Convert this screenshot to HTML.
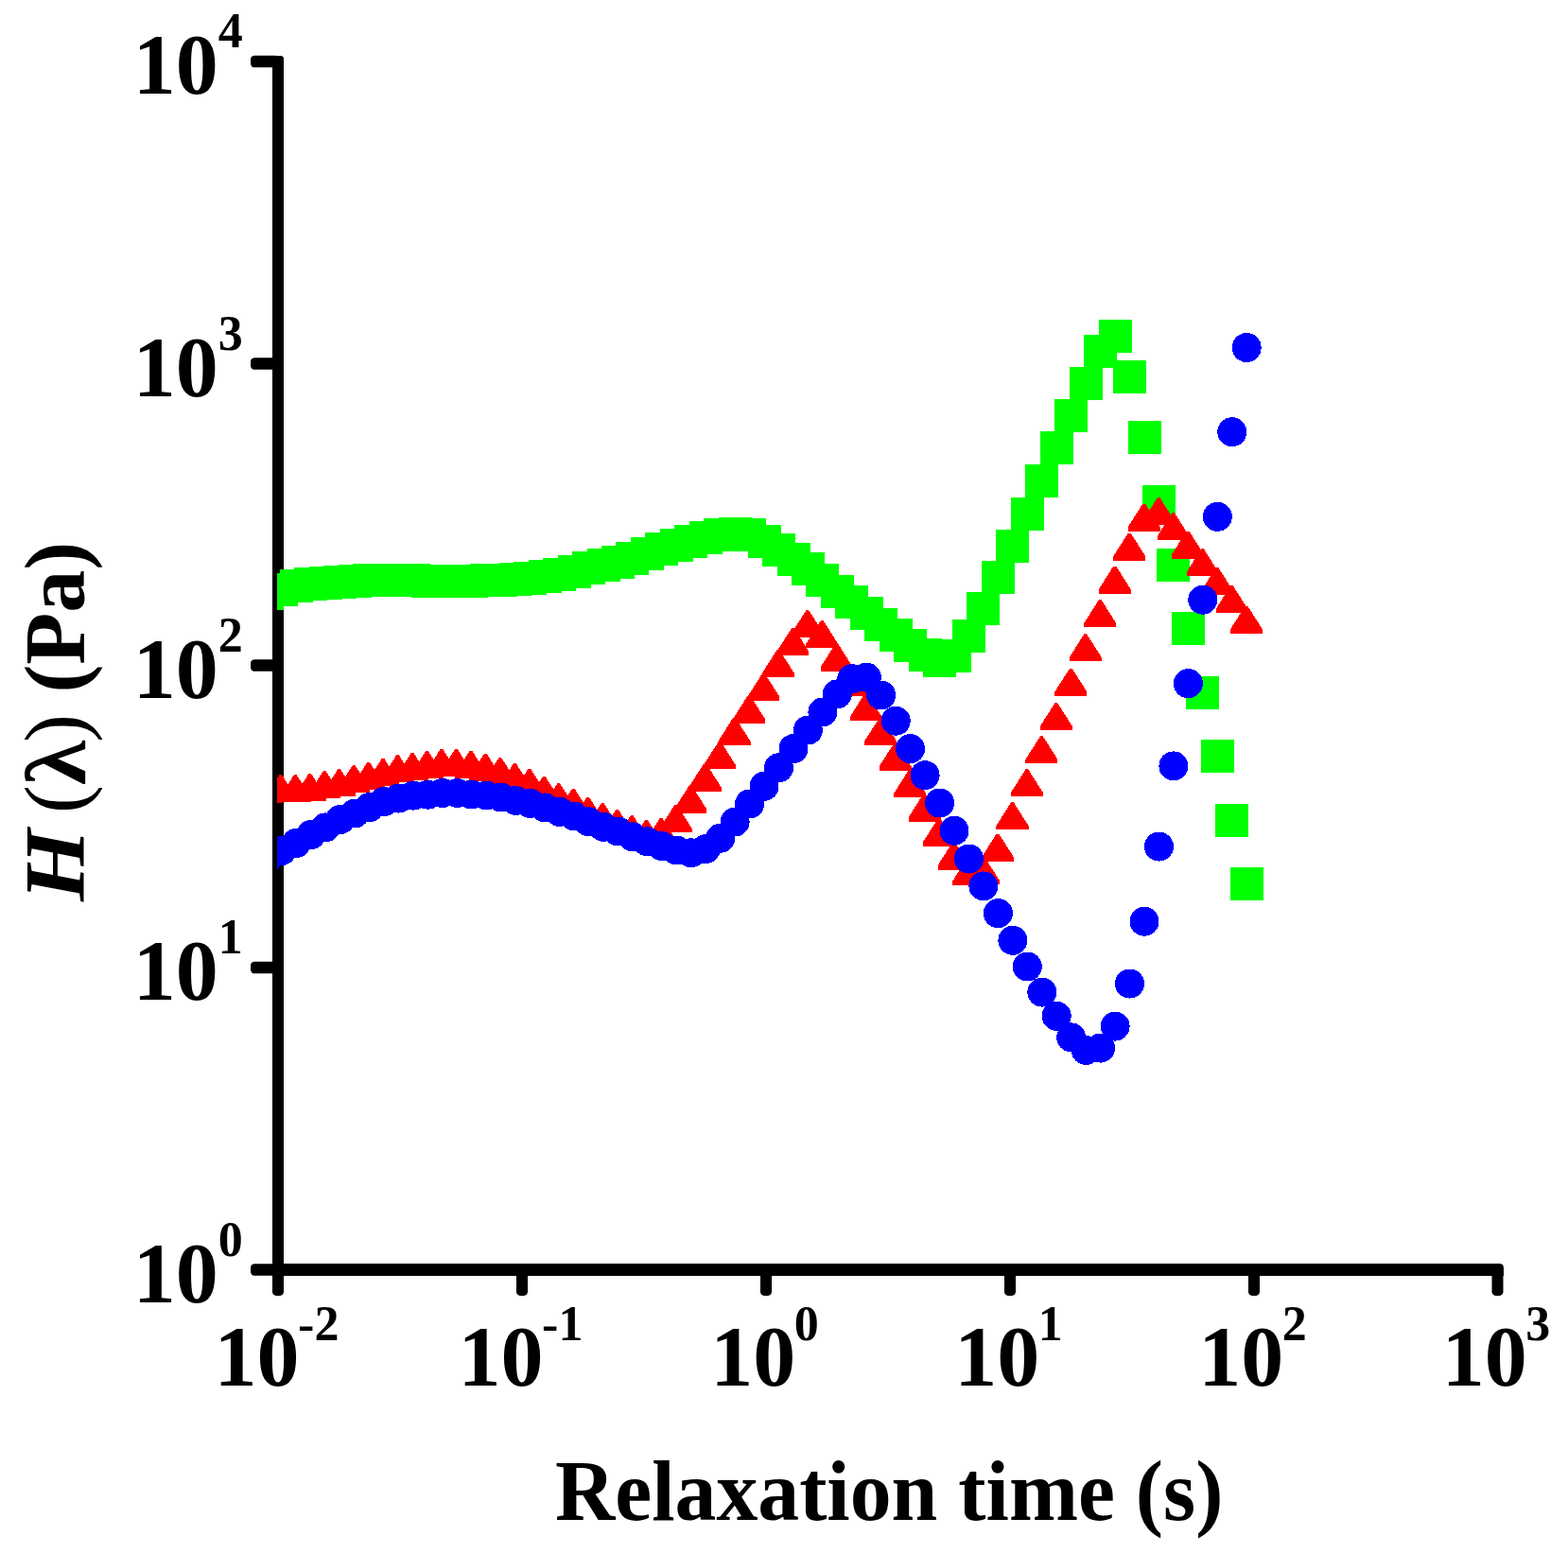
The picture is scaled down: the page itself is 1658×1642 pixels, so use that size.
<!DOCTYPE html>
<html><head><meta charset="utf-8"><title>Relaxation spectrum H(λ)</title><style>
html,body{margin:0;padding:0;background:#fff;overflow:hidden;}
svg{display:block;}
text{font-family:'Liberation Serif', 'Times New Roman', serif;fill:#000;}
</style></head><body>
<svg width="1658" height="1642" viewBox="0 0 1658 1642">
<rect width="1658" height="1642" fill="#fff"/>
<defs><clipPath id="pc"><rect x="293" y="0" width="1365" height="1336"/></clipPath></defs>
<g id="axes" fill="#000">
<path d="M288 59H298L300 61V1349H288Z"/>
<rect x="265" y="58.7" width="30" height="12.6" rx="4.5" ry="4"/>
<rect x="265" y="378.2" width="30" height="12.6" rx="4.5" ry="4"/>
<rect x="265" y="697.2" width="30" height="12.6" rx="4.5" ry="4"/>
<rect x="265" y="1016.7" width="30" height="12.6" rx="4.5" ry="4"/>
<rect x="265" y="1336.2" width="30" height="12.6" rx="4.5" ry="4"/>
<path d="M288 1336H1585.5A4.5 4.5 0 0 1 1590 1340.5V1349H288Z"/>
<rect x="288.0" y="1342" width="12" height="28" rx="4.5" ry="4"/>
<rect x="546.0" y="1342" width="12" height="28" rx="4.5" ry="4"/>
<rect x="804.0" y="1342" width="12" height="28" rx="4.5" ry="4"/>
<rect x="1062.0" y="1342" width="12" height="28" rx="4.5" ry="4"/>
<rect x="1320.0" y="1342" width="12" height="28" rx="4.5" ry="4"/>
<rect x="1577.5" y="1342" width="12" height="28" rx="4.5" ry="4"/>
</g>
<g clip-path="url(#pc)" shape-rendering="crispEdges">
<g fill="#00ff00">
<rect x="264.9" y="609.8" width="35" height="35"/>
<rect x="280.4" y="606.0" width="35" height="35"/>
<rect x="295.8" y="601.8" width="35" height="35"/>
<rect x="311.3" y="600.0" width="35" height="35"/>
<rect x="326.7" y="598.9" width="35" height="35"/>
<rect x="342.2" y="597.8" width="35" height="35"/>
<rect x="357.7" y="596.9" width="35" height="35"/>
<rect x="373.1" y="596.0" width="35" height="35"/>
<rect x="388.6" y="596.0" width="35" height="35"/>
<rect x="404.0" y="595.9" width="35" height="35"/>
<rect x="419.5" y="596.0" width="35" height="35"/>
<rect x="435.0" y="596.5" width="35" height="35"/>
<rect x="450.4" y="596.7" width="35" height="35"/>
<rect x="465.9" y="596.7" width="35" height="35"/>
<rect x="481.3" y="596.5" width="35" height="35"/>
<rect x="496.8" y="596.2" width="35" height="35"/>
<rect x="512.3" y="595.8" width="35" height="35"/>
<rect x="527.7" y="594.7" width="35" height="35"/>
<rect x="543.2" y="594.0" width="35" height="35"/>
<rect x="558.6" y="592.0" width="35" height="35"/>
<rect x="574.1" y="590.0" width="35" height="35"/>
<rect x="589.6" y="587.2" width="35" height="35"/>
<rect x="605.0" y="583.1" width="35" height="35"/>
<rect x="620.5" y="580.3" width="35" height="35"/>
<rect x="635.9" y="577.2" width="35" height="35"/>
<rect x="651.4" y="573.2" width="35" height="35"/>
<rect x="666.9" y="568.2" width="35" height="35"/>
<rect x="682.3" y="563.2" width="35" height="35"/>
<rect x="697.8" y="559.2" width="35" height="35"/>
<rect x="713.2" y="555.2" width="35" height="35"/>
<rect x="728.7" y="551.2" width="35" height="35"/>
<rect x="744.2" y="548.3" width="35" height="35"/>
<rect x="759.6" y="547.0" width="35" height="35"/>
<rect x="775.1" y="548.0" width="35" height="35"/>
<rect x="790.5" y="554.5" width="35" height="35"/>
<rect x="806.0" y="563.6" width="35" height="35"/>
<rect x="821.5" y="573.9" width="35" height="35"/>
<rect x="836.9" y="583.9" width="35" height="35"/>
<rect x="852.4" y="595.9" width="35" height="35"/>
<rect x="867.8" y="608.0" width="35" height="35"/>
<rect x="883.3" y="618.9" width="35" height="35"/>
<rect x="898.8" y="630.9" width="35" height="35"/>
<rect x="914.2" y="642.9" width="35" height="35"/>
<rect x="929.7" y="654.3" width="35" height="35"/>
<rect x="945.1" y="664.9" width="35" height="35"/>
<rect x="960.6" y="674.9" width="35" height="35"/>
<rect x="976.1" y="681.0" width="35" height="35"/>
<rect x="991.5" y="676.0" width="35" height="35"/>
<rect x="1007.0" y="655.3" width="35" height="35"/>
<rect x="1022.4" y="625.5" width="35" height="35"/>
<rect x="1037.9" y="593.3" width="35" height="35"/>
<rect x="1053.4" y="560.3" width="35" height="35"/>
<rect x="1068.8" y="526.0" width="35" height="35"/>
<rect x="1084.3" y="491.0" width="35" height="35"/>
<rect x="1099.7" y="456.4" width="35" height="35"/>
<rect x="1115.2" y="421.9" width="35" height="35"/>
<rect x="1130.7" y="388.0" width="35" height="35"/>
<rect x="1146.1" y="354.0" width="35" height="35"/>
<rect x="1161.6" y="337.9" width="35" height="35"/>
<rect x="1177.0" y="380.5" width="35" height="35"/>
<rect x="1192.5" y="445.2" width="35" height="35"/>
<rect x="1208.0" y="513.1" width="35" height="35"/>
<rect x="1223.4" y="579.8" width="35" height="35"/>
<rect x="1238.9" y="646.9" width="35" height="35"/>
<rect x="1254.3" y="714.5" width="35" height="35"/>
<rect x="1269.8" y="781.9" width="35" height="35"/>
<rect x="1285.3" y="849.9" width="35" height="35"/>
<rect x="1300.7" y="917.0" width="35" height="35"/>
</g>
<g fill="#ff0000">
<path d="M279.9 820.0H282.7L298.4 844.7V849.0H264.2V844.7Z"/>
<path d="M295.4 819.2H298.1L313.8 843.9V848.2H279.7V843.9Z"/>
<path d="M310.9 819.2H313.6L329.3 843.9V848.2H295.2V843.9Z"/>
<path d="M326.4 818.1H329.1L344.8 842.8V847.1H310.7V842.8Z"/>
<path d="M341.8 815.1H344.5L360.2 839.8V844.1H326.1V839.8Z"/>
<path d="M357.3 813.2H360.0L375.7 837.9V842.2H341.6V837.9Z"/>
<path d="M372.8 809.1H375.5L391.2 833.8V838.1H357.1V833.8Z"/>
<path d="M388.3 806.1H391.0L406.7 830.8V835.1H372.6V830.8Z"/>
<path d="M403.7 802.2H406.4L422.1 826.9V831.2H388.0V826.9Z"/>
<path d="M419.2 798.4H421.9L437.6 823.1V827.4H403.5V823.1Z"/>
<path d="M434.7 796.1H437.4L453.1 820.8V825.1H419.0V820.8Z"/>
<path d="M450.2 794.0H452.9L468.6 818.7V823.0H434.5V818.7Z"/>
<path d="M465.6 792.1H468.3L484.0 816.8V821.1H449.9V816.8Z"/>
<path d="M481.1 792.1H483.8L499.5 816.8V821.1H465.4V816.8Z"/>
<path d="M496.6 794.0H499.3L515.0 818.7V823.0H480.9V818.7Z"/>
<path d="M512.0 797.0H514.7L530.4 821.7V826.0H496.3V821.7Z"/>
<path d="M527.5 801.1H530.2L545.9 825.8V830.1H511.8V825.8Z"/>
<path d="M543.0 807.1H545.7L561.4 831.8V836.1H527.3V831.8Z"/>
<path d="M558.5 812.9H561.2L576.9 837.6V841.9H542.8V837.6Z"/>
<path d="M573.9 821.0H576.6L592.3 845.7V850.0H558.2V845.7Z"/>
<path d="M589.4 828.3H592.1L607.8 853.0V857.3H573.7V853.0Z"/>
<path d="M604.9 834.0H607.6L623.3 858.7V863.0H589.2V858.7Z"/>
<path d="M620.4 843.0H623.1L638.8 867.7V872.0H604.7V867.7Z"/>
<path d="M635.8 849.1H638.5L654.2 873.8V878.1H620.1V873.8Z"/>
<path d="M651.3 856.1H654.0L669.7 880.8V885.1H635.6V880.8Z"/>
<path d="M666.8 862.2H669.5L685.2 886.9V891.2H651.1V886.9Z"/>
<path d="M682.2 867.2H684.9L700.6 891.9V896.2H666.5V891.9Z"/>
<path d="M697.7 865.2H700.4L716.1 889.9V894.2H682.0V889.9Z"/>
<path d="M713.2 851.2H715.9L731.6 875.9V880.2H697.5V875.9Z"/>
<path d="M728.7 830.5H731.4L747.1 855.2V859.5H713.0V855.2Z"/>
<path d="M744.1 807.5H746.8L762.5 832.2V836.5H728.4V832.2Z"/>
<path d="M759.6 784.3H762.3L778.0 809.0V813.3H743.9V809.0Z"/>
<path d="M775.1 759.0H777.8L793.5 783.7V788.0H759.4V783.7Z"/>
<path d="M790.6 735.5H793.3L809.0 760.2V764.5H774.9V760.2Z"/>
<path d="M806.0 712.1H808.7L824.4 736.8V741.1H790.3V736.8Z"/>
<path d="M821.5 687.2H824.2L839.9 711.9V716.2H805.8V711.9Z"/>
<path d="M837.0 664.2H839.7L855.4 688.9V693.2H821.3V688.9Z"/>
<path d="M852.5 645.1H855.2L870.9 669.8V674.1H836.8V669.8Z"/>
<path d="M867.9 656.2H870.6L886.3 680.9V685.2H852.2V680.9Z"/>
<path d="M883.4 680.6H886.1L901.8 705.3V709.6H867.7V705.3Z"/>
<path d="M898.9 706.5H901.6L917.3 731.2V735.5H883.2V731.2Z"/>
<path d="M914.3 733.4H917.0L932.7 758.1V762.4H898.6V758.1Z"/>
<path d="M929.8 759.0H932.5L948.2 783.7V788.0H914.1V783.7Z"/>
<path d="M945.3 785.8H948.0L963.7 810.5V814.8H929.6V810.5Z"/>
<path d="M960.8 814.2H963.5L979.2 838.9V843.2H945.1V838.9Z"/>
<path d="M976.2 839.6H978.9L994.6 864.3V868.6H960.5V864.3Z"/>
<path d="M991.7 865.5H994.4L1010.1 890.2V894.5H976.0V890.2Z"/>
<path d="M1007.2 890.5H1009.9L1025.6 915.2V919.5H991.5V915.2Z"/>
<path d="M1022.7 907.2H1025.4L1041.1 931.9V936.2H1007.0V931.9Z"/>
<path d="M1038.1 905.6H1040.8L1056.5 930.3V934.6H1022.4V930.3Z"/>
<path d="M1053.6 881.7H1056.3L1072.0 906.4V910.7H1037.9V906.4Z"/>
<path d="M1069.1 848.3H1071.8L1087.5 873.0V877.3H1053.4V873.0Z"/>
<path d="M1084.5 813.4H1087.2L1102.9 838.1V842.4H1068.8V838.1Z"/>
<path d="M1100.0 778.3H1102.7L1118.4 803.0V807.3H1084.3V803.0Z"/>
<path d="M1115.5 743.2H1118.2L1133.9 767.9V772.2H1099.8V767.9Z"/>
<path d="M1131.0 706.8H1133.7L1149.4 731.5V735.8H1115.3V731.5Z"/>
<path d="M1146.4 670.4H1149.1L1164.8 695.1V699.4H1130.7V695.1Z"/>
<path d="M1161.9 634.3H1164.6L1180.3 659.0V663.3H1146.2V659.0Z"/>
<path d="M1177.4 598.5H1180.1L1195.8 623.2V627.5H1161.7V623.2Z"/>
<path d="M1192.9 563.5H1195.6L1211.3 588.2V592.5H1177.2V588.2Z"/>
<path d="M1208.3 532.6H1211.0L1226.7 557.3V561.6H1192.6V557.3Z"/>
<path d="M1223.8 526.2H1226.5L1242.2 550.9V555.2H1208.1V550.9Z"/>
<path d="M1239.3 542.4H1242.0L1257.7 567.1V571.4H1223.6V567.1Z"/>
<path d="M1254.7 561.5H1257.4L1273.1 586.2V590.5H1239.0V586.2Z"/>
<path d="M1270.2 580.4H1272.9L1288.6 605.1V609.4H1254.5V605.1Z"/>
<path d="M1285.7 600.2H1288.4L1304.1 624.9V629.2H1270.0V624.9Z"/>
<path d="M1301.2 619.4H1303.9L1319.6 644.1V648.4H1285.5V644.1Z"/>
<path d="M1316.6 640.8H1319.3L1335.0 665.5V669.8H1300.9V665.5Z"/>
</g>
<g fill="#0000ff">
<circle cx="282.4" cy="908.0" r="15.5"/>
<circle cx="297.9" cy="899.5" r="15.5"/>
<circle cx="313.3" cy="891.4" r="15.5"/>
<circle cx="328.8" cy="882.6" r="15.5"/>
<circle cx="344.2" cy="874.9" r="15.5"/>
<circle cx="359.7" cy="866.6" r="15.5"/>
<circle cx="375.2" cy="860.0" r="15.5"/>
<circle cx="390.6" cy="853.7" r="15.5"/>
<circle cx="406.1" cy="847.5" r="15.5"/>
<circle cx="421.5" cy="844.1" r="15.5"/>
<circle cx="437.0" cy="841.1" r="15.5"/>
<circle cx="452.5" cy="840.2" r="15.5"/>
<circle cx="467.9" cy="838.5" r="15.5"/>
<circle cx="483.4" cy="838.5" r="15.5"/>
<circle cx="498.8" cy="840.0" r="15.5"/>
<circle cx="514.3" cy="841.0" r="15.5"/>
<circle cx="529.8" cy="843.0" r="15.5"/>
<circle cx="545.2" cy="846.4" r="15.5"/>
<circle cx="560.7" cy="849.4" r="15.5"/>
<circle cx="576.1" cy="853.9" r="15.5"/>
<circle cx="591.6" cy="858.3" r="15.5"/>
<circle cx="607.1" cy="863.0" r="15.5"/>
<circle cx="622.5" cy="868.8" r="15.5"/>
<circle cx="638.0" cy="874.3" r="15.5"/>
<circle cx="653.4" cy="879.0" r="15.5"/>
<circle cx="668.9" cy="884.8" r="15.5"/>
<circle cx="684.4" cy="889.8" r="15.5"/>
<circle cx="699.8" cy="894.6" r="15.5"/>
<circle cx="715.3" cy="899.0" r="15.5"/>
<circle cx="730.7" cy="901.8" r="15.5"/>
<circle cx="746.2" cy="897.6" r="15.5"/>
<circle cx="761.7" cy="886.2" r="15.5"/>
<circle cx="777.1" cy="869.0" r="15.5"/>
<circle cx="792.6" cy="850.0" r="15.5"/>
<circle cx="808.0" cy="831.3" r="15.5"/>
<circle cx="823.5" cy="811.8" r="15.5"/>
<circle cx="839.0" cy="791.6" r="15.5"/>
<circle cx="854.4" cy="772.0" r="15.5"/>
<circle cx="869.9" cy="753.0" r="15.5"/>
<circle cx="885.3" cy="733.9" r="15.5"/>
<circle cx="900.8" cy="717.7" r="15.5"/>
<circle cx="916.3" cy="716.2" r="15.5"/>
<circle cx="931.7" cy="735.0" r="15.5"/>
<circle cx="947.2" cy="762.2" r="15.5"/>
<circle cx="962.6" cy="791.6" r="15.5"/>
<circle cx="978.1" cy="819.7" r="15.5"/>
<circle cx="993.6" cy="849.0" r="15.5"/>
<circle cx="1009.0" cy="878.3" r="15.5"/>
<circle cx="1024.5" cy="908.0" r="15.5"/>
<circle cx="1039.9" cy="936.9" r="15.5"/>
<circle cx="1055.4" cy="965.7" r="15.5"/>
<circle cx="1070.9" cy="994.3" r="15.5"/>
<circle cx="1086.3" cy="1022.0" r="15.5"/>
<circle cx="1101.8" cy="1049.1" r="15.5"/>
<circle cx="1117.2" cy="1074.3" r="15.5"/>
<circle cx="1132.7" cy="1096.9" r="15.5"/>
<circle cx="1148.2" cy="1110.4" r="15.5"/>
<circle cx="1163.6" cy="1108.1" r="15.5"/>
<circle cx="1179.1" cy="1085.1" r="15.5"/>
<circle cx="1194.5" cy="1040.0" r="15.5"/>
<circle cx="1210.0" cy="974.2" r="15.5"/>
<circle cx="1225.5" cy="895.1" r="15.5"/>
<circle cx="1240.9" cy="809.9" r="15.5"/>
<circle cx="1256.4" cy="722.7" r="15.5"/>
<circle cx="1271.8" cy="634.2" r="15.5"/>
<circle cx="1287.3" cy="546.3" r="15.5"/>
<circle cx="1302.8" cy="456.7" r="15.5"/>
<circle cx="1318.2" cy="367.5" r="15.5"/>
</g>
</g>
<g id="ylabels">
<text x="140.8" y="99.3" font-size="90" font-weight="bold">10<tspan font-size="52" dy="-49">4</tspan></text>
<text x="140.8" y="418.8" font-size="90" font-weight="bold">10<tspan font-size="52" dy="-49">3</tspan></text>
<text x="140.8" y="737.8" font-size="90" font-weight="bold">10<tspan font-size="52" dy="-49">2</tspan></text>
<text x="140.8" y="1057.3" font-size="90" font-weight="bold">10<tspan font-size="52" dy="-49">1</tspan></text>
<text x="140.8" y="1376.8" font-size="90" font-weight="bold">10<tspan font-size="52" dy="-49">0</tspan></text>
</g>
<g id="xlabels">
<text x="292.5" y="1465" font-size="90" font-weight="bold" text-anchor="middle">10<tspan font-size="52" dx="-1.5" dy="-47.8">-2</tspan></text>
<text x="550.5" y="1465" font-size="90" font-weight="bold" text-anchor="middle">10<tspan font-size="52" dx="-1.5" dy="-47.8">-1</tspan></text>
<text x="808.5" y="1465" font-size="90" font-weight="bold" text-anchor="middle">10<tspan font-size="52" dx="-1.5" dy="-47.8">0</tspan></text>
<text x="1066.5" y="1465" font-size="90" font-weight="bold" text-anchor="middle">10<tspan font-size="52" dx="-1.5" dy="-47.8">1</tspan></text>
<text x="1324.5" y="1465" font-size="90" font-weight="bold" text-anchor="middle">10<tspan font-size="52" dx="-1.5" dy="-47.8">2</tspan></text>
<text x="1582.0" y="1465" font-size="90" font-weight="bold" text-anchor="middle">10<tspan font-size="52" dx="-1.5" dy="-47.8">3</tspan></text>
</g>
<text x="586.9" y="1607" font-size="90" font-weight="bold" textLength="706.5" lengthAdjust="spacingAndGlyphs">Relaxation time (s)</text>
<g font-size="90">
<text transform="translate(88.8 952.9) rotate(-90) scale(1.096 1)" font-weight="bold" font-style="italic">H</text>
<text transform="translate(88.8 860) rotate(-90)">(</text>
<text transform="translate(90.3 830.2) rotate(-90) scale(1.07 1)" font-weight="bold">λ</text>
<text transform="translate(88.8 785) rotate(-90)">)</text>
<text transform="translate(88.8 732.6) rotate(-90)" font-weight="bold">(Pa)</text>
</g>
</svg>
</body></html>
